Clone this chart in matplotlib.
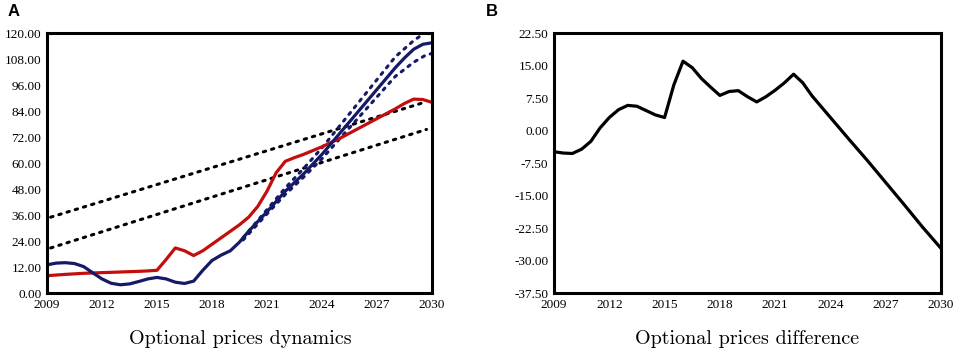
import matplotlib
matplotlib.use("Agg")
import matplotlib.pyplot as plt
from matplotlib.ticker import FormatStrFormatter

plt.rcParams["axes.unicode_minus"] = False

# panel A: price dynamics
blue_years = [2009, 2009.5, 2010, 2010.5, 2011, 2011.5, 2012, 2012.5, 2013, 2013.5,
              2014, 2014.5, 2015, 2015.5, 2016, 2016.5, 2017, 2017.5, 2018, 2018.5,
              2019, 2019.5, 2020, 2021, 2022, 2023, 2024, 2025, 2026, 2027, 2028,
              2028.5, 2029, 2029.5, 2030]
blue_price = [13.0, 13.8, 14.0, 13.6, 12.2, 9.3, 6.5, 4.5, 3.8, 4.2,
              5.3, 6.5, 7.2, 6.5, 5.0, 4.4, 5.5, 10.5, 15.0, 17.5,
              19.5, 23.5, 28.5, 37.5, 47.0, 55.0, 64.0, 74.0, 84.0, 94.0, 104.0,
              108.5, 112.5, 114.8, 115.5]

red_years = [2009, 2010, 2011, 2012, 2013, 2014, 2014.5, 2015, 2015.5, 2016,
             2016.5, 2017, 2017.5, 2018, 2018.5, 2019, 2019.5, 2020, 2020.5, 2021,
             2021.5, 2022, 2022.5, 2023, 2024, 2025, 2026, 2027, 2028, 2028.5,
             2029, 2029.5, 2030]
red_price = [8.0, 8.6, 9.1, 9.4, 9.7, 10.0, 10.2, 10.5, 15.5, 20.8,
             19.5, 17.3, 19.5, 22.5, 25.5, 28.5, 31.5, 35.0, 40.0, 47.0,
             55.5, 60.8, 62.5, 64.0, 67.5, 71.5, 76.0, 80.5, 85.0, 87.5,
             89.5, 89.3, 88.0]

trend_years = [2009.2, 2029.7]
trend_upper = [35.0, 88.3]
trend_lower = [20.8, 75.5]

band_years = [2019.7, 2021, 2022, 2023, 2024, 2025, 2026, 2027, 2028, 2029, 2029.6, 2030]
band_upper = [25.5, 38.5, 48.5, 57.5, 67.0, 77.5, 88.0, 98.5, 109.0, 116.5, 120.0, None]
band_lower = [24.5, 36.5, 45.5, 53.5, 62.0, 71.5, 81.0, 90.5, 100.0, 106.5, 109.5, 110.6]

# panel B: difference of the two prices
diff_years = [2009, 2009.5, 2010, 2010.5, 2011, 2011.5, 2012, 2012.5, 2013, 2013.5,
              2014, 2014.5, 2015, 2015.5, 2016, 2016.5, 2017, 2017.5, 2018, 2018.5,
              2019, 2019.5, 2020, 2020.5, 2021, 2021.5, 2022, 2022.5, 2023, 2024,
              2025, 2026, 2027, 2028, 2029, 2030]
diff_value = [-4.9, -5.2, -5.3, -4.3, -2.5, 0.6, 3.0, 4.8, 5.8, 5.6,
              4.6, 3.6, 3.0, 10.5, 16.0, 14.5, 12.0, 10.0, 8.1, 9.0,
              9.2, 7.8, 6.6, 7.8, 9.3, 11.0, 13.0, 11.0, 8.0, 3.0,
              -2.0, -6.9, -12.0, -17.1, -22.3, -27.2]

year_ticks = [2009, 2012, 2015, 2018, 2021, 2024, 2027, 2030]
a_ticks = [0, 12, 24, 36, 48, 60, 72, 84, 96, 108, 120]
b_ticks = [-37.5, -30, -22.5, -15, -7.5, 0, 7.5, 15, 22.5]

navy = "#141a66"
red = "#c40d0d"
dots = (0, (0.8, 2.0))

fig = plt.figure(figsize=(9.57, 3.55), dpi=100)
ax_a = fig.add_axes([0.0491, 0.1746, 0.4023, 0.7324])
ax_b = fig.add_axes([0.5789, 0.1746, 0.4044, 0.7324])

ax_a.plot(trend_years, trend_upper, color="black", lw=2.2, ls=dots, dash_capstyle="round")
ax_a.plot(trend_years, trend_lower, color="black", lw=2.2, ls=dots, dash_capstyle="round")
up_x = [x for x, v in zip(band_years, band_upper) if v is not None]
up_y = [v for v in band_upper if v is not None]
ax_a.plot(up_x, up_y, color=navy, lw=2.2, ls=dots, dash_capstyle="round")
ax_a.plot(band_years, band_lower, color=navy, lw=2.2, ls=dots, dash_capstyle="round")
ax_a.plot(red_years, red_price, color=red, lw=2.3, solid_capstyle="round")
ax_a.plot(blue_years, blue_price, color=navy, lw=2.3, solid_capstyle="round")
ax_a.set_xlim(2009, 2030)
ax_a.set_ylim(0, 120)
ax_a.set_yticks(a_ticks)

ax_b.plot(diff_years, diff_value, color="black", lw=2.3, solid_capstyle="round")
ax_b.set_xlim(2009, 2030)
ax_b.set_ylim(-37.5, 22.5)
ax_b.set_yticks(b_ticks)

for ax in (ax_a, ax_b):
    ax.set_xticks(year_ticks)
    ax.yaxis.set_major_formatter(FormatStrFormatter("%.2f"))
    ax.tick_params(length=0, pad=4)
    for lab in ax.get_xticklabels() + ax.get_yticklabels():
        lab.set_family("Liberation Serif")
        lab.set_fontsize(9.5)
    for sp in ax.spines.values():
        sp.set_linewidth(2.2)
        sp.set_color("black")
    ax.patch.set_facecolor("white")

fig.text(0.251, 0.045, "Optional prices dynamics", family="cmr10", fontsize=14.5,
         ha="center", va="center")
fig.text(0.781, 0.045, "Optional prices difference", family="cmr10", fontsize=14.5,
         ha="center", va="center")
fig.text(0.008, 0.988, "A", family="Liberation Sans", fontweight="bold", fontsize=12,
         ha="left", va="top")
fig.text(0.508, 0.988, "B", family="Liberation Sans", fontweight="bold", fontsize=12,
         ha="left", va="top")

fig.savefig("out.png", dpi=100)
